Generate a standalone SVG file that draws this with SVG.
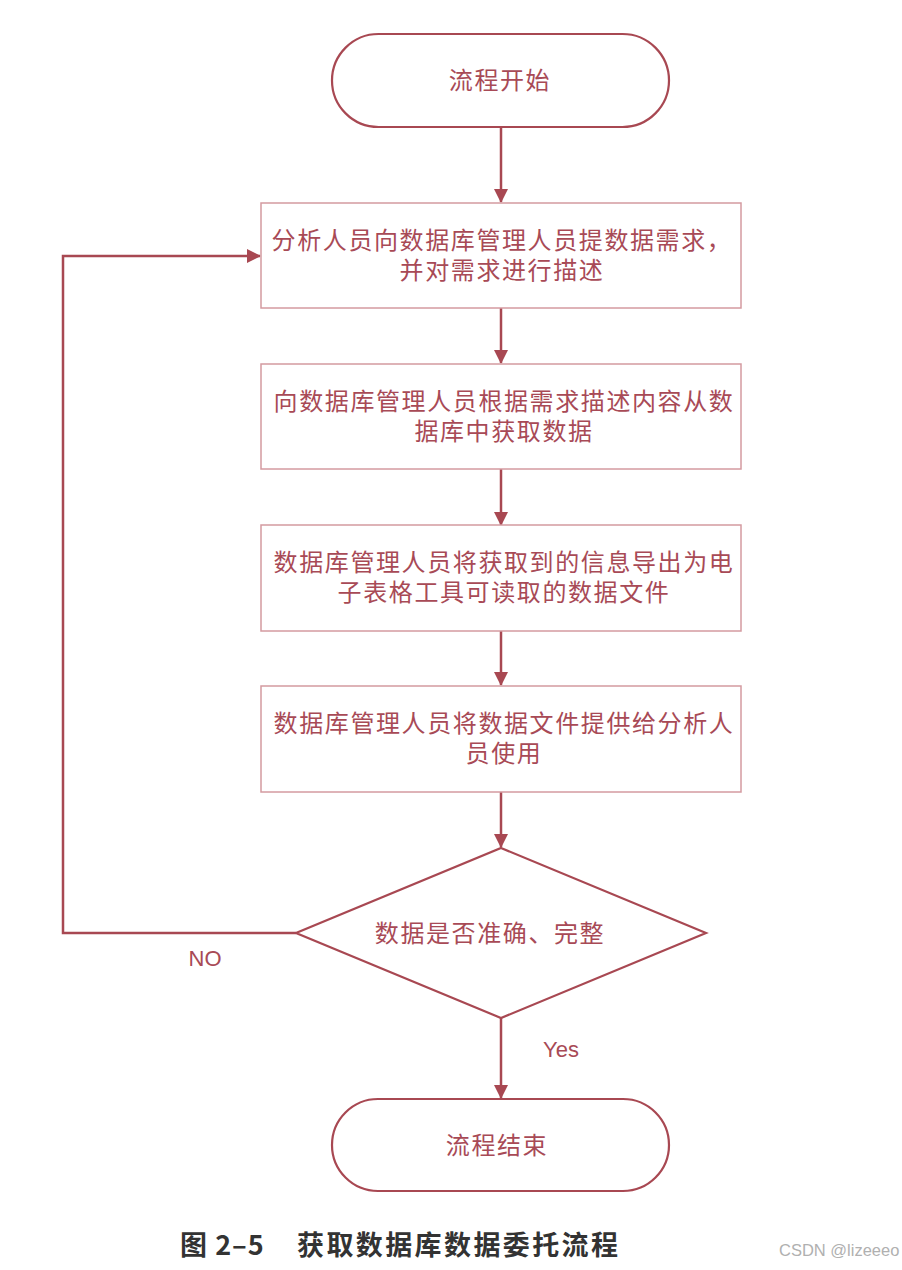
<svg xmlns="http://www.w3.org/2000/svg" width="902" height="1270" viewBox="0 0 902 1270">
<style>
.term{fill:#fff;stroke:#a84852;stroke-width:2.2}
.box{fill:#fff;stroke:#d49aa0;stroke-width:1.5}
.dia{fill:#fff;stroke:#a84852;stroke-width:2.2}
.t{font-family:"Noto Sans CJK SC","Noto Sans",sans-serif;font-size:24px;fill:#a84a56;text-anchor:middle;letter-spacing:1.6px}
.lbl{font-family:"Liberation Sans","Noto Sans",sans-serif;font-size:22px;fill:#a84a56;text-anchor:middle}
.conn{fill:none;stroke:#a84852;stroke-width:2.5}
.cap{font-family:"Noto Sans CJK SC",sans-serif;font-size:27px;font-weight:bold;fill:#333}
.wm{font-family:"Liberation Sans",sans-serif;font-size:16.5px;fill:#b0b0b0}
</style>
<defs>
<marker id="arr" viewBox="0 0 14 14" refX="13" refY="7" markerWidth="14" markerHeight="14" markerUnits="userSpaceOnUse" orient="auto">
<path d="M0,0 L14,7 L0,14 Z" fill="#a84852"/>
</marker>
</defs>
<g id="connectors">
<line class="conn" x1="501" y1="127" x2="501" y2="202" marker-end="url(#arr)"/>
<line class="conn" x1="501" y1="308" x2="501" y2="363" marker-end="url(#arr)"/>
<line class="conn" x1="501" y1="469" x2="501" y2="525" marker-end="url(#arr)"/>
<line class="conn" x1="501" y1="631" x2="501" y2="685" marker-end="url(#arr)"/>
<line class="conn" x1="501" y1="792" x2="501" y2="847" marker-end="url(#arr)"/>
<line class="conn" x1="501" y1="1018" x2="501" y2="1098" marker-end="url(#arr)"/>
<polyline class="conn" points="296,933 63,933 63,256 260,256" marker-end="url(#arr)"/>
<text class="lbl" x="205" y="966">NO</text>
<text class="lbl" x="561" y="1057">Yes</text>
</g>
<g id="start">
<rect class="term" x="332" y="34" width="337" height="93" rx="46.5"/>
<text class="t" x="500" y="89">流程开始</text>
</g>
<g id="step1">
<rect class="box" x="261" y="203" width="480" height="105"/>
<text class="t"><tspan x="502" y="249">分析人员向数据库管理人员提数据需求，</tspan><tspan x="502" y="279">并对需求进行描述</tspan></text>
</g>
<g id="step2">
<rect class="box" x="261" y="364" width="480" height="105"/>
<text class="t"><tspan x="504" y="410">向数据库管理人员根据需求描述内容从数</tspan><tspan x="504" y="440">据库中获取数据</tspan></text>
</g>
<g id="step3">
<rect class="box" x="261" y="525" width="480" height="106"/>
<text class="t"><tspan x="504" y="571">数据库管理人员将获取到的信息导出为电</tspan><tspan x="504" y="601">子表格工具可读取的数据文件</tspan></text>
</g>
<g id="step4">
<rect class="box" x="261" y="686" width="480" height="106"/>
<text class="t"><tspan x="504" y="732">数据库管理人员将数据文件提供给分析人</tspan><tspan x="504" y="762">员使用</tspan></text>
</g>
<g id="decision">
<polygon class="dia" points="501,848 706,933 501,1018 296,933"/>
<text class="t" x="490" y="942">数据是否准确、完整</text>
</g>
<g id="end">
<rect class="term" x="332" y="1099" width="337" height="92" rx="46"/>
<text class="t" x="497" y="1154">流程结束</text>
</g>
<g id="caption">
<text class="cap" x="180" y="1255"><tspan letter-spacing="1">图 2–5</tspan><tspan x="297" letter-spacing="2.4">获取数据库数据委托流程</tspan></text>
<text class="wm" x="779" y="1256">CSDN @lizeeeo</text>
</g>
</svg>
